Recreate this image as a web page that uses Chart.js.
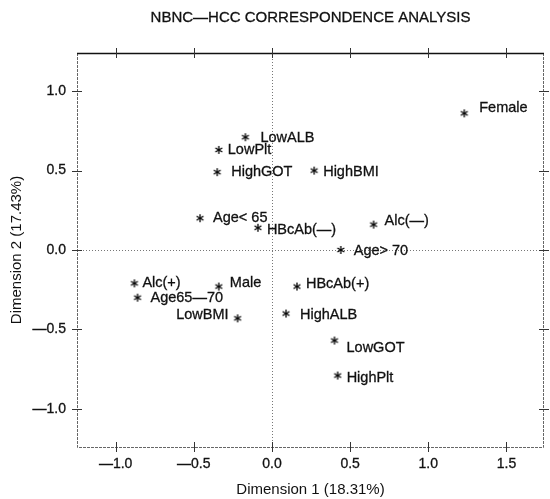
<!DOCTYPE html>
<html>
<head>
<meta charset="utf-8">
<script src="https://cdn.jsdelivr.net/npm/chart.js@4.4.1/dist/chart.umd.min.js"></script>
<style>
  html, body { margin: 0; padding: 0; background: #fff; }
  #wrap { width: 550px; height: 499px; position: relative; }
</style>
</head>
<body>
<div id="wrap"><canvas id="chart"></canvas></div>
<script>
// category coordinates (minus typeset as a long dash, like the original)
const categories = ["Female", "LowALB", "LowPlt", "HighGOT", "HighBMI", "Age< 65", "HBcAb(\u2014)", "Alc(\u2014)",
  "Age> 70", "Alc(+)", "Age65\u201470", "Male", "LowBMI", "HBcAb(+)", "HighALB", "LowGOT", "HighPlt"];
const dim1 = [1.23, -0.17, -0.34, -0.35, 0.27, -0.46, -0.09, 0.65, 0.44, -0.88, -0.86, -0.34, -0.22, 0.16, 0.09, 0.40, 0.42];
const dim2 = [0.86, 0.71, 0.63, 0.49, 0.50, 0.20, 0.14, 0.16, 0.00, -0.21, -0.30, -0.23, -0.43, -0.23, -0.40, -0.57, -0.79];

const xTickValues = [-1.0, -0.5, 0.0, 0.5, 1.0, 1.5];
const yTickValues = [-1.0, -0.5, 0.0, 0.5, 1.0];

const TITLE = "NBNC\u2014HCC CORRESPONDENCE ANALYSIS";
const FONT = "'Liberation Sans', Arial, sans-serif";

// where each label sits relative to its asterisk [dx, dy, align]
const labelNudge = {
  "Female": [15, -5], "LowALB": [15, 1], "LowPlt": [9, 0], "HighGOT": [14, 0], "HighBMI": [9, 1],
  "Age< 65": [13, 0], "HBcAb(\u2014)": [9, 2], "Alc(\u2014)": [11, -4], "Age> 70": [13, 1],
  "Alc(+)": [8, 0], "Age65\u201470": [13, 0], "Male": [11, -4], "LowBMI": [-9, -3, "right"],
  "HBcAb(+)": [9, -3], "HighALB": [14, 1], "LowGOT": [12, 7], "HighPlt": [9, 2]
};

const fmt = (v) => (v < 0 ? "\u2014" : "") + Math.abs(v).toFixed(1);

// little six-armed asterisk used as point style
function makeAsterisk() {
  const c = document.createElement("canvas");
  c.width = 10; c.height = 10;
  const g = c.getContext("2d");
  g.strokeStyle = "#000";
  g.lineWidth = 1.3;
  for (let k = 0; k < 3; k++) {
    const a = Math.PI / 2 + k * Math.PI / 3;
    g.beginPath();
    g.moveTo(5 - 4 * Math.cos(a), 5 - 4 * Math.sin(a));
    g.lineTo(5 + 4 * Math.cos(a), 5 + 4 * Math.sin(a));
    g.stroke();
  }
  return c;
}

const framePlugin = {
  id: "frame",
  beforeDatasetsDraw(chart) {
    const { ctx, chartArea: a, scales } = chart;
    const x = scales.x, y = scales.y;
    ctx.save();
    // zero reference lines
    ctx.strokeStyle = "#777";
    ctx.lineWidth = 1;
    ctx.setLineDash([1, 2]);
    const x0 = Math.round(x.getPixelForValue(0)) + 0.5;
    const y0 = Math.round(y.getPixelForValue(0)) + 0.5;
    ctx.beginPath();
    ctx.moveTo(x0, a.top); ctx.lineTo(x0, a.bottom);
    ctx.moveTo(a.left, y0); ctx.lineTo(a.right, y0);
    ctx.stroke();
    // frame: solid top, lighter dashed others
    ctx.setLineDash([3, 1]);
    ctx.strokeStyle = "#666";
    ctx.beginPath();
    ctx.moveTo(a.left + 0.5, a.top); ctx.lineTo(a.left + 0.5, a.bottom + 0.5);
    ctx.lineTo(a.right - 0.5, a.bottom + 0.5); ctx.lineTo(a.right - 0.5, a.top);
    ctx.stroke();
    ctx.setLineDash([]);
    ctx.strokeStyle = "#111";
    ctx.lineWidth = 1.5;
    ctx.beginPath();
    ctx.moveTo(a.left, a.top + 0.5); ctx.lineTo(a.right, a.top + 0.5);
    ctx.stroke();
    // tick marks crossing all four sides
    ctx.lineWidth = 1;
    ctx.strokeStyle = "#333";
    ctx.beginPath();
    xTickValues.forEach((v) => {
      const px = Math.round(x.getPixelForValue(v)) + 0.5;
      ctx.moveTo(px, a.top - 5); ctx.lineTo(px, a.top + 5);
      ctx.moveTo(px, a.bottom - 5); ctx.lineTo(px, a.bottom + 5);
    });
    yTickValues.forEach((v) => {
      const py = Math.round(y.getPixelForValue(v)) + 0.5;
      ctx.moveTo(a.left - 5, py); ctx.lineTo(a.left + 5, py);
      ctx.moveTo(a.right - 5, py); ctx.lineTo(a.right + 5, py);
    });
    ctx.stroke();
    ctx.restore();
  },
  afterDraw(chart) {
    const { ctx, chartArea: a } = chart;
    ctx.save();
    ctx.fillStyle = "#111";
    ctx.strokeStyle = "#111";
    ctx.lineWidth = 0.3;
    ctx.textBaseline = "middle";
    // title
    ctx.font = "15px " + FONT;
    ctx.textAlign = "center";
    ctx.fillText(TITLE, (a.left + a.right) / 2, 18);
    ctx.strokeText(TITLE, (a.left + a.right) / 2, 18);
    // point labels
    ctx.font = "14.5px " + FONT;
    const meta = chart.getDatasetMeta(0);
    meta.data.forEach((pt, i) => {
      const name = categories[i];
      const n = labelNudge[name] || [11, 0];
      ctx.textAlign = n[2] || "left";
      ctx.fillText(name, pt.x + n[0], pt.y + n[1]);
      ctx.strokeText(name, pt.x + n[0], pt.y + n[1]);
    });
    ctx.restore();
  }
};

const tickStyle = {
  callback: fmt, color: "#111", textStrokeColor: "#111", textStrokeWidth: 0.3,
  font: { family: FONT, size: 14 }
};

new Chart(document.getElementById("chart"), {
  type: "scatter",
  data: {
    datasets: [{
      label: "categories",
      data: dim1.map((v, i) => ({ x: v, y: dim2[i] })),
      pointStyle: makeAsterisk(),
      pointRadius: 5,
      pointHoverRadius: 5
    }]
  },
  options: {
    responsive: true,
    maintainAspectRatio: false,
    animation: false,
    events: [],
    layout: { padding: { top: 53, right: 1, left: 0, bottom: 0 } },
    plugins: { legend: { display: false }, tooltip: { enabled: false }, title: { display: false } },
    scales: {
      x: {
        type: "linear",
        min: -1.247,
        max: 1.74,
        afterBuildTicks: (s) => { s.ticks = xTickValues.map((v) => ({ value: v })); },
        afterFit: (s) => { s.height = 52; },
        grid: { display: false },
        border: { display: false },
        ticks: Object.assign({ padding: 1, maxRotation: 0 }, tickStyle),
        title: { display: true, text: "Dimension 1 (18.31%)", color: "#111", padding: 0, font: { family: FONT, size: 15 } }
      },
      y: {
        type: "linear",
        min: -1.24,
        max: 1.24,
        afterBuildTicks: (s) => { s.ticks = yTickValues.map((v) => ({ value: v })); },
        afterFit: (s) => { s.width = 77; },
        grid: { display: false },
        border: { display: false },
        ticks: Object.assign({ padding: 3 }, tickStyle),
        title: { display: true, text: "Dimension 2 (17.43%)", color: "#111", padding: { top: 8, bottom: 0 }, font: { family: FONT, size: 15 } }
      }
    }
  },
  plugins: [framePlugin]
});
</script>
</body>
</html>
